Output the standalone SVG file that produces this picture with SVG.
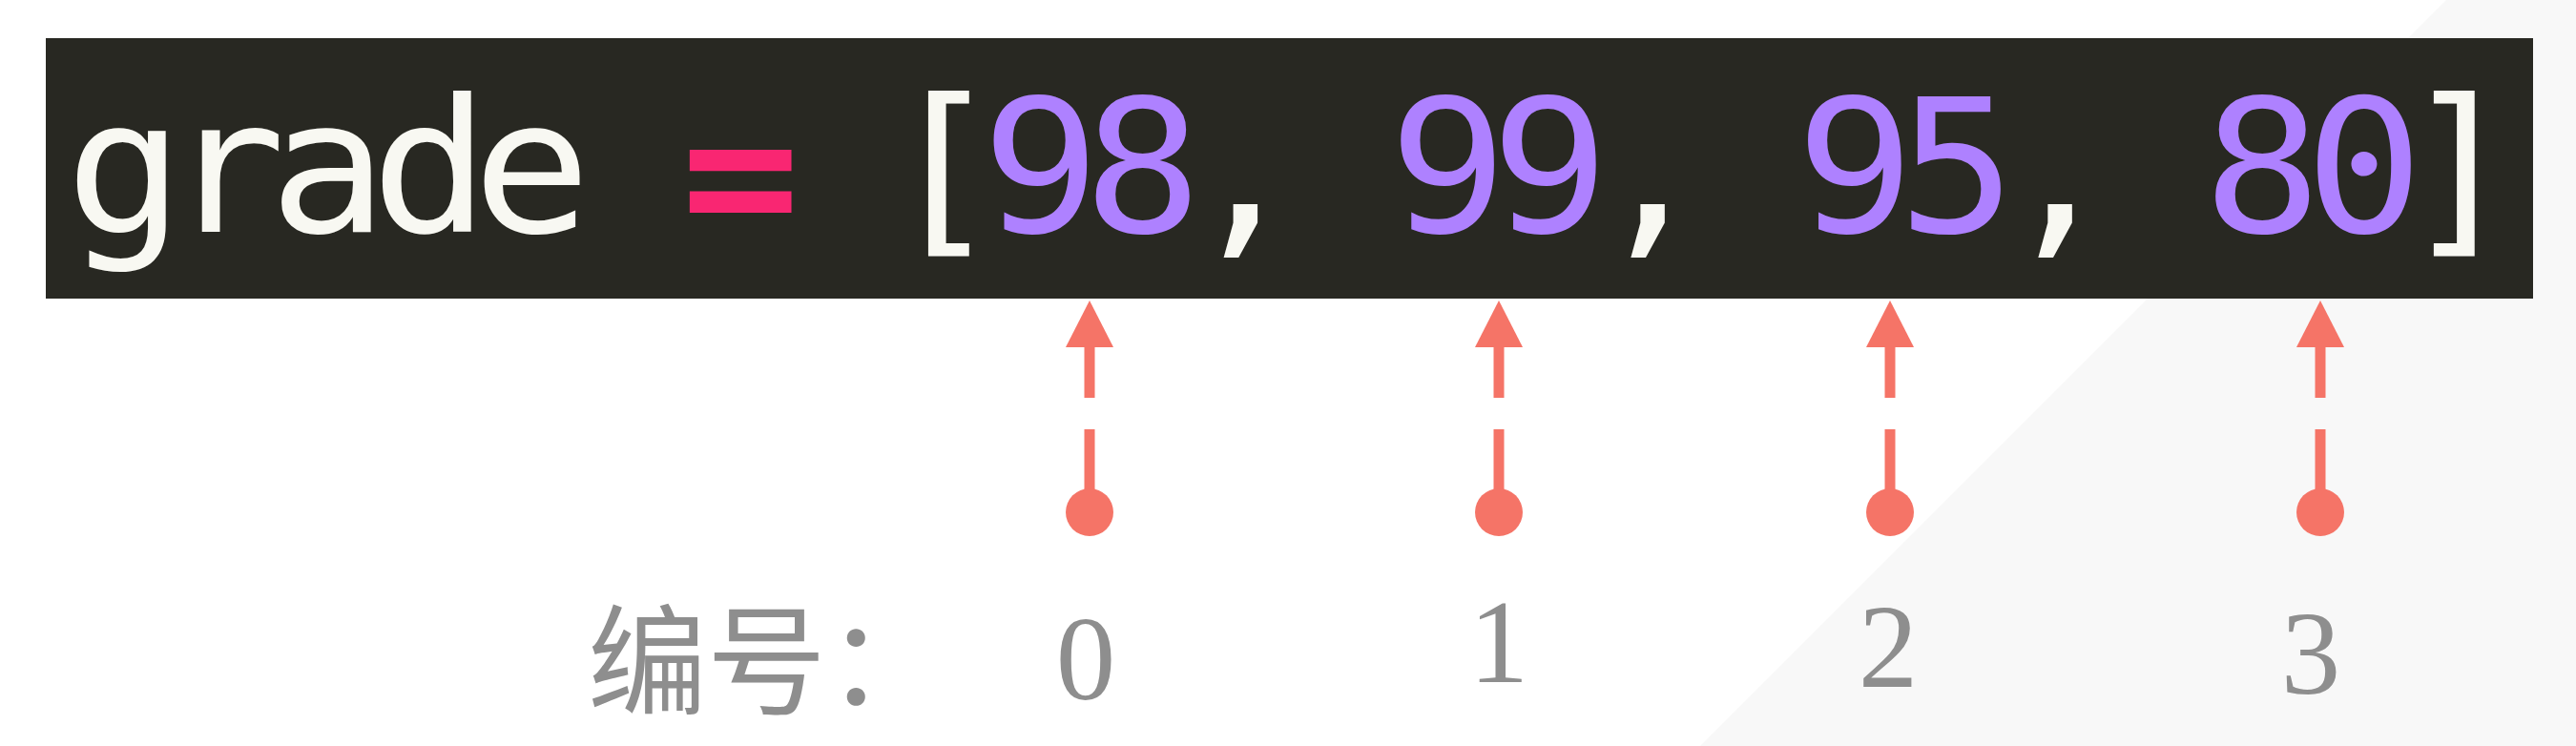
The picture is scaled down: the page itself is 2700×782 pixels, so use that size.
<svg xmlns="http://www.w3.org/2000/svg" width="2700" height="782" viewBox="0 0 2700 782">
  <style>
    .code { font-family: "DejaVu Sans Mono", "Liberation Mono", monospace; font-size: 195px; letter-spacing: -16.74px; white-space: pre; }
    .w { fill: #F8F8F2; }
    .p { fill: #F92672; font-weight: bold; }
    .n { fill: #AE81FF; }
    .lbl { font-family: "Liberation Serif", "Noto Sans CJK SC", serif; font-size: 125px; fill: #8E8E8E; text-anchor: middle; }
    .cjk { font-family: "Noto Sans CJK SC", sans-serif; font-size: 125px; fill: #8E8E8E; }
    .conn { fill: none; stroke: #F57467; stroke-width: 11; stroke-dasharray: 87 33 53; marker-start: url(#dot); marker-end: url(#head); }
  </style>
  <defs>
    <marker id="head" markerUnits="userSpaceOnUse" viewBox="0 0 49 50" refX="0" refY="25" markerWidth="49" markerHeight="50" orient="auto">
      <polygon points="0,0 49,25 0,50" fill="#F57467"/>
    </marker>
    <marker id="dot" markerUnits="userSpaceOnUse" viewBox="0 0 50 50" refX="25" refY="25" markerWidth="50" markerHeight="50" orient="auto">
      <circle cx="25" cy="25" r="25" fill="#F57467"/>
    </marker>
  </defs>

  <rect x="0" y="0" width="2700" height="782" fill="#FFFFFF"/>
  <polygon points="2564,0 2700,0 2700,782 1782,782" fill="#F8F8F8"/>

  <g id="code-bar">
    <rect x="48" y="40" width="2607" height="273" fill="#282822"/>
    <text class="code" transform="scale(1.06,1)" x="64.6" y="243"><tspan class="w">grade </tspan><tspan class="p" dx="5" dy="8">=</tspan><tspan class="w" dx="-5" dy="-8"> </tspan><tspan class="w" dx="4">[</tspan><tspan class="n" dx="-4">98</tspan><tspan class="w">, </tspan><tspan class="n">99</tspan><tspan class="w">, </tspan><tspan class="n">95</tspan><tspan class="w">, </tspan><tspan class="n">80</tspan><tspan class="w" dx="-6">]</tspan></text>
  </g>

  <g id="connectors">
    <path class="conn" d="M1142,537 V364"/>
    <path class="conn" d="M1571,537 V364"/>
    <path class="conn" d="M1981,537 V364"/>
    <path class="conn" d="M2432,537 V364"/>
  </g>

  <g id="label-title">
    <text class="cjk" x="616" y="739">编号：</text>
  </g>
  <g id="index-0"><text class="lbl" x="1138" y="733">0</text></g>
  <g id="index-1"><text class="lbl" x="1571" y="715">1</text></g>
  <g id="index-2"><text class="lbl" x="1979" y="720">2</text></g>
  <g id="index-3"><text class="lbl" x="2422" y="727">3</text></g>
</svg>
